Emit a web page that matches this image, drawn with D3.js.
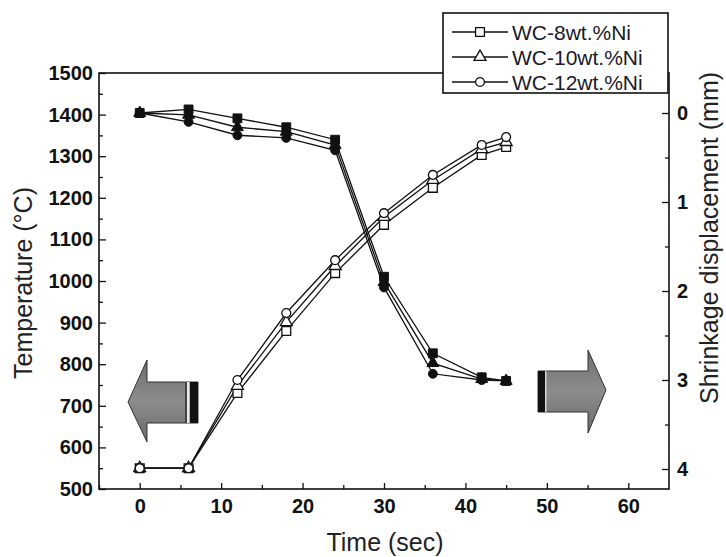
<!DOCTYPE html>
<html>
<head>
<meta charset="utf-8">
<script src="https://cdn.jsdelivr.net/npm/d3@7"></script>
<style>
  html, body { margin: 0; padding: 0; background: #ffffff; }
  svg { display: block; font-family: "Liberation Sans", Arial, sans-serif; }
</style>
</head>
<body>
<svg id="chart" width="726" height="557"></svg>
<script>
// ---- data ----
const time = [0, 6, 12, 18, 24, 30, 36, 42, 45];
const seriesNames = ["WC-8wt.%Ni", "WC-10wt.%Ni", "WC-12wt.%Ni"];
const temp8  = [550, 550, 731, 880, 1019, 1135, 1224, 1303, 1322];
const temp10 = [550, 550, 748, 901, 1036, 1154, 1243, 1317, 1334];
const temp12 = [550, 550, 762, 923, 1050, 1163, 1255, 1327, 1346];
const shrink8  = [0, -0.04, 0.06, 0.16, 0.30, 1.84, 2.70, 2.97, 3.01];
const shrink10 = [0, 0.02, 0.16, 0.21, 0.36, 1.90, 2.81, 2.99, 3.01];
const shrink12 = [0, 0.10, 0.25, 0.28, 0.42, 1.96, 2.93, 3.00, 3.01];
const xTicks = [0, 10, 20, 30, 40, 50, 60];
const tempTicks = [500, 600, 700, 800, 900, 1000, 1100, 1200, 1300, 1400, 1500];
const shrinkTicks = [0, 1, 2, 3, 4];

const temps = [temp8, temp10, temp12];
const shrinks = [shrink8, shrink10, shrink12];
const symbols = [d3.symbolSquare, d3.symbolTriangle, d3.symbolCircle];
const symSizes = [78, 62, 62];

const svg = d3.select("#chart");
const L = 99, R = 669, T = 73, B = 489;

const x = d3.scaleLinear().domain([-5, 65]).range([L, R]);
const yT = d3.scaleLinear().domain([500, 1500]).range([B, T]);
const yS = d3.scaleLinear().domain([0, 4]).range([113, 469]);

// ---- arrows (decoration) ----
const defs = svg.append("defs");
const g1 = defs.append("linearGradient").attr("id", "ag").attr("x1", 0).attr("y1", 0).attr("x2", 0).attr("y2", 1);
g1.append("stop").attr("offset", "0%").attr("stop-color", "#6e6e6e");
g1.append("stop").attr("offset", "50%").attr("stop-color", "#8c8c8c");
g1.append("stop").attr("offset", "100%").attr("stop-color", "#6a6a6a");

const arrows = svg.append("g");
// left arrow
arrows.append("path")
  .attr("d", "M128,402 L147,360 L147,382 L198,382 L198,423 L147,423 L147,442 Z")
  .attr("fill", "url(#ag)").attr("stroke", "#333").attr("stroke-width", 1);
arrows.append("rect").attr("x", 185).attr("y", 382).attr("width", 2).attr("height", 41).attr("fill", "#444");
arrows.append("rect").attr("x", 187).attr("y", 382).attr("width", 2.5).attr("height", 41).attr("fill", "#e8e8e8");
arrows.append("rect").attr("x", 190).attr("y", 382).attr("width", 8).attr("height", 41).attr("fill", "#111");
// right arrow
arrows.append("path")
  .attr("d", "M538,371 L588,371 L588,350 L606,390 L588,433 L588,412 L538,412 Z")
  .attr("fill", "url(#ag)").attr("stroke", "#333").attr("stroke-width", 1);
arrows.append("rect").attr("x", 538).attr("y", 371).attr("width", 7).attr("height", 41).attr("fill", "#111");
arrows.append("rect").attr("x", 545).attr("y", 371).attr("width", 1.5).attr("height", 41).attr("fill", "#d8d8d8");

// ---- axes ----
const tickFont = (sel) => sel.selectAll("text")
  .attr("font-size", 20).attr("font-weight", "bold").attr("fill", "#111")
  .attr("font-family", "'Liberation Sans', Arial, sans-serif");

const xAxis = svg.append("g").attr("transform", `translate(0,${B})`)
  .call(d3.axisBottom(x).tickValues(xTicks).tickSize(-6).tickPadding(10).tickFormat(d3.format("d")));
xAxis.call(tickFont);
svg.append("g").attr("transform", `translate(0,${B})`)
  .call(d3.axisBottom(x).tickValues([-5, 5, 15, 25, 35, 45, 55]).tickSize(-4).tickFormat(""));

const yAxisL = svg.append("g").attr("transform", `translate(${L},0)`)
  .call(d3.axisLeft(yT).tickValues(tempTicks).tickSize(-7).tickPadding(6).tickFormat(d3.format("d")));
yAxisL.call(tickFont);
svg.append("g").attr("transform", `translate(${L},0)`)
  .call(d3.axisLeft(yT).tickValues([550, 650, 750, 850, 950, 1050, 1150, 1250, 1350, 1450]).tickSize(-4).tickFormat(""));

const yAxisR = svg.append("g").attr("transform", `translate(${R},0)`)
  .call(d3.axisRight(yS).tickValues(shrinkTicks).tickSize(-7).tickPadding(8).tickFormat(d3.format("d")));
yAxisR.call(tickFont);
svg.append("g").attr("transform", `translate(${R},0)`)
  .call(d3.axisRight(yS).tickValues([0.5, 1.5, 2.5, 3.5]).tickSize(-4).tickFormat(""));

svg.selectAll(".domain").remove();
svg.selectAll(".tick line").attr("stroke", "#111").attr("stroke-width", 1.3);

// frame
svg.append("rect").attr("x", L).attr("y", T).attr("width", R - L).attr("height", B - T)
  .attr("fill", "none").attr("stroke", "#111").attr("stroke-width", 1.6);

// axis titles
svg.append("text").attr("x", 385).attr("y", 551).attr("text-anchor", "middle")
  .attr("font-size", 25).attr("fill", "#222").text("Time (sec)");
svg.append("text").attr("transform", "translate(23,283) rotate(-90)")
  .attr("text-anchor", "middle").attr("dominant-baseline", "central")
  .attr("font-size", 25).attr("fill", "#222").text("Temperature (°C)");
svg.append("text").attr("transform", "translate(709,238) rotate(-90)")
  .attr("text-anchor", "middle").attr("dominant-baseline", "central")
  .attr("font-size", 25).attr("fill", "#222").text("Shrinkage displacement (mm)");

// ---- series ----
const lineT = (vals) => d3.line().x((d, i) => x(time[i])).y(d => yT(d))(vals);
const lineS = (vals) => d3.line().x((d, i) => x(time[i])).y(d => yS(d))(vals);

const plot = svg.append("g");
shrinks.forEach((vals) => {
  plot.append("path").attr("d", lineS(vals)).attr("fill", "none")
    .attr("stroke", "#111").attr("stroke-width", 1.3);
});
temps.forEach((vals) => {
  plot.append("path").attr("d", lineT(vals)).attr("fill", "none")
    .attr("stroke", "#111").attr("stroke-width", 1.3);
});
shrinks.forEach((vals, k) => {
  plot.selectAll(null).data(vals).enter().append("path")
    .attr("transform", (d, i) => `translate(${x(time[i])},${yS(d)})`)
    .attr("d", d3.symbol().type(symbols[k]).size(symSizes[k]))
    .attr("fill", "#111").attr("stroke", "#111").attr("stroke-width", 1);
});
temps.forEach((vals, k) => {
  plot.selectAll(null).data(vals).enter().append("path")
    .attr("transform", (d, i) => `translate(${x(time[i])},${yT(d)})`)
    .attr("d", d3.symbol().type(symbols[k]).size(symSizes[k]))
    .attr("fill", "#fff").attr("stroke", "#111").attr("stroke-width", 1.3);
});

// ---- legend ----
const leg = svg.append("g");
leg.append("rect").attr("x", 443).attr("y", 13).attr("width", 225).attr("height", 80)
  .attr("fill", "#fff").attr("stroke", "#111").attr("stroke-width", 1.6);
seriesNames.forEach((name, k) => {
  const yy = 32 + k * 25;
  leg.append("line").attr("x1", 452).attr("x2", 508).attr("y1", yy).attr("y2", yy)
    .attr("stroke", "#111").attr("stroke-width", 1.3);
  leg.append("path").attr("transform", `translate(480,${yy})`)
    .attr("d", d3.symbol().type(symbols[k]).size(symSizes[k]))
    .attr("fill", "#fff").attr("stroke", "#111").attr("stroke-width", 1.3);
  leg.append("text").attr("x", 512).attr("y", yy).attr("dominant-baseline", "central")
    .attr("font-size", 21).attr("fill", "#1a1a2a").text(name);
});
</script>
</body>
</html>
